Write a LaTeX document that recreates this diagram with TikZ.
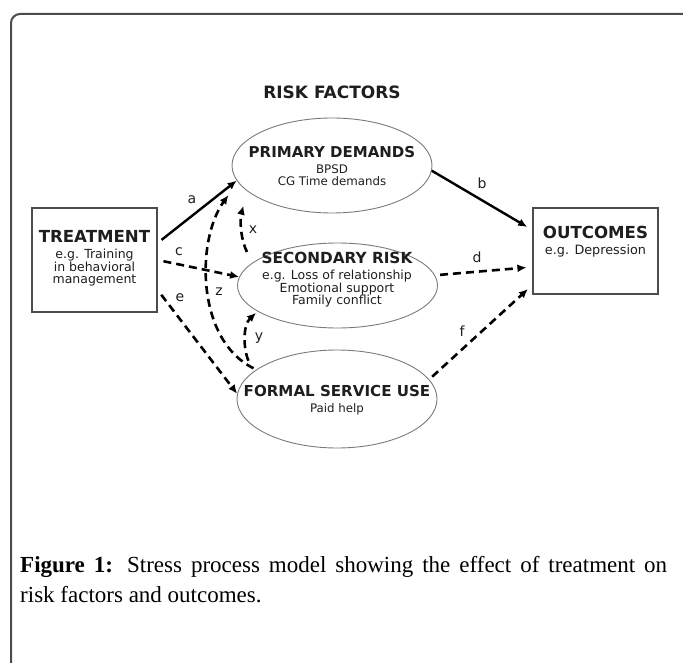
\documentclass[tikz,border=0pt]{standalone}
\usepackage{fontspec}
\setmainfont{Liberation Serif}
\newfontfamily\diafont{DejaVu Sans}
\usetikzlibrary{arrows.meta,shapes.geometric,positioning}

\definecolor{inkgray}{HTML}{1E1E1E}
\definecolor{linegray}{HTML}{7A7A7A}

\tikzset{
  riskell/.style={ellipse, draw=linegray, line width=0.9pt, minimum width=200pt, inner sep=0pt},
  endbox/.style={rectangle, draw=black!70, line width=1.2pt, minimum width=125pt, inner sep=0pt},
  blocktxt/.style={align=center, inner sep=0pt, text=inkgray},
  solidarr/.style={line width=2.4pt, -{Latex[length=9pt,width=8pt]}},
  dasharr/.style={line width=2.6pt, dash pattern=on 8pt off 5pt, -{Latex[length=9pt,width=8pt]}},
  lbl/.style={font=\diafont\fontsize{14}{14}\selectfont, inner sep=0pt, text=inkgray},
}

\begin{document}
\begin{tikzpicture}[x=1pt,y=-1pt]
\useasboundingbox (0,0) rectangle (683,663);

% frame
\draw[line width=2pt, black!70, rounded corners=9pt] (11,663) -- (11,14) -- (683,14);

% boxes and ellipses
\node[endbox, minimum height=104pt] (treat) at (94.5,260) {};
\node[endbox, minimum height=86pt] (outc) at (595.5,251) {};
\node[riskell, minimum height=95pt] (primary) at (332,165.5) {};
\node[riskell, minimum height=85pt] (secondary) at (337.5,285.5) {};
\node[riskell, minimum height=98pt] (formal) at (337,399) {};

% texts
\node[inner sep=0pt, text=inkgray, font=\diafont\bfseries\fontsize{17}{17}\selectfont] (riskhd) at (332,92) {RISK FACTORS};
\node[blocktxt, font=\diafont\fontsize{11.8}{12}\selectfont] (primtxt) at (332,166)
  {{\diafont\bfseries\fontsize{15}{15}\selectfont PRIMARY DEMANDS}\\[4pt] BPSD\\ CG Time demands};
\node[blocktxt, font=\diafont\fontsize{12.5}{12.5}\selectfont] (sectxt) at (337,280)
  {{\diafont\bfseries\fontsize{15.3}{15.3}\selectfont SECONDARY RISK}\\[3.5pt] e.g. Loss of relationship\\ Emotional support\\ Family conflict};
\node[blocktxt, font=\diafont\fontsize{11.8}{12}\selectfont] (formtxt) at (337,400)
  {{\diafont\bfseries\fontsize{15.1}{15.1}\selectfont FORMAL SERVICE USE}\\[3.5pt] Paid help};
\node[blocktxt, font=\diafont\fontsize{12.5}{11.5}\selectfont] (treattxt) at (94.5,258)
  {{\diafont\bfseries\fontsize{16.6}{16.6}\selectfont TREATMENT}\\[5pt] e.g. Training\\ in behavioral\\ management};
\node[blocktxt, font=\diafont\fontsize{12.8}{12.8}\selectfont] (outctxt) at (595.5,242)
  {{\diafont\bfseries\fontsize{16.6}{16.6}\selectfont OUTCOMES}\\[3pt] e.g. Depression};

% paths
\draw[solidarr, shorten <=5pt] ([yshift=17pt]treat.east) -- (primary.189);
\draw[solidarr, shorten >=6pt] (primary.357) -- ([yshift=21pt]outc.west);
\draw[dasharr, shorten <=6pt] (treat.east) -- (secondary.175);
\draw[dasharr, shorten <=5pt, shorten >=6pt] (secondary.6) -- ([yshift=-16pt]outc.west);
\draw[dasharr, shorten <=6pt] ([yshift=-30pt]treat.east) -- (formal.177);
\draw[dasharr, shorten <=4pt, shorten >=6pt] (formal.12) -- ([yshift=-34pt]outc.west);
\draw[dasharr, shorten <=12pt, shorten >=15pt] (secondary.165) .. controls (240,238) and (240,218) .. (primary.197);
\draw[dasharr, shorten <=3pt, shorten >=16pt] (formal.160) .. controls (196,340) and (196,240) .. (primary.190);
\draw[dasharr, shorten <=12pt, shorten >=2pt] (formal.162) .. controls (243,348) and (243,325) .. (secondary.198);

% path labels
\foreach \l/\x/\y in {a/192/200, b/482/183, c/179/252, d/477/257, e/180/298, f/462/331, x/253/230, y/259/338, z/219/292}
  \node[lbl] (lbl\l) at (\x,\y) {\l};

% caption
\node[anchor=base west, inner sep=0pt, font=\fontsize{23}{28}\selectfont] (cap1) at (20,572)
  {\makebox[647pt][s]{\textbf{Figure 1:} Stress process model showing the effect of treatment on}};
\node[anchor=base west, inner sep=0pt, font=\fontsize{23}{28}\selectfont] (cap2) at (20,602)
  {risk factors and outcomes.};
\end{tikzpicture}
\end{document}
